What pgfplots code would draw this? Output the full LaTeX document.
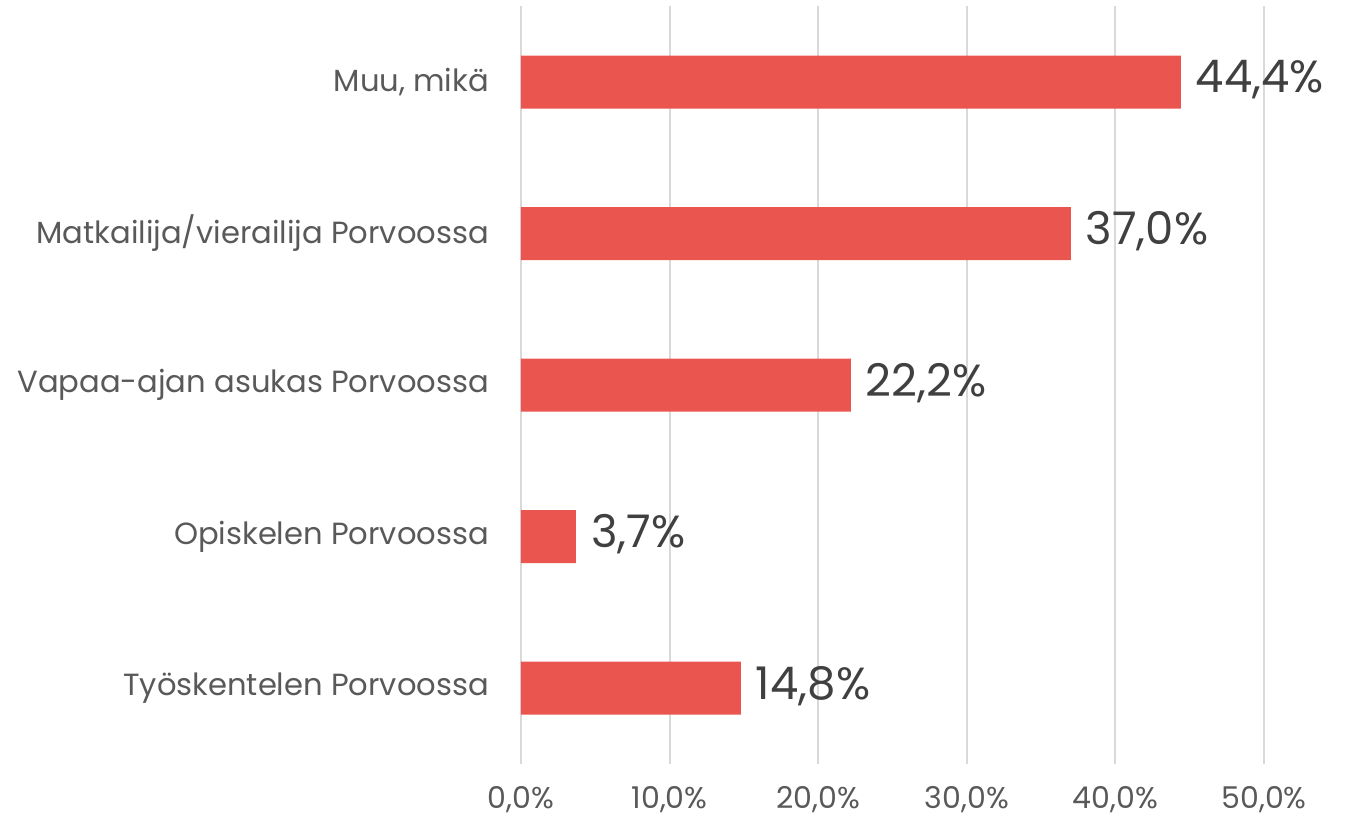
\documentclass[border=0pt]{standalone}
\usepackage{pgfplots}
\pgfplotsset{compat=1.18}
\usepackage{fontspec}
\setmainfont{Poppins}
\definecolor{barred}{HTML}{EA5550}
\definecolor{txtgray}{HTML}{595959}
\definecolor{valgray}{HTML}{404040}
\definecolor{gridgray}{HTML}{D9D9D9}
\begin{document}
\begin{tikzpicture}
\begin{axis}[
  at={(0,0)}, anchor=south west,
  scale only axis,
  width=371.5pt, height=378.75pt,
  xbar, bar width=26.5pt,
  xmin=0, xmax=50,
  ymin=-0.5, ymax=4.5,
  xtick={0,10,20,30,40,50},
  xticklabels={0{,}0\%,10{,}0\%,20{,}0\%,30{,}0\%,40{,}0\%,50{,}0\%},
  ytick={0,1,2,3,4},
  yticklabels={Työskentelen Porvoossa,Opiskelen Porvoossa,Vapaa-ajan asukas Porvoossa,Matkailija/vierailija Porvoossa,{Muu, mikä}},
  axis line style={draw=none},
  major tick length=0pt,
  xmajorgrids, grid style={gridgray, line width=1pt},
  y tick label style={font=\fontsize{15.3}{18}\selectfont, text=txtgray, xshift=-12.5pt},
  x tick label style={font=\fontsize{15}{18}\selectfont, text=txtgray, yshift=-8pt},
  /pgf/number format/assume math mode=true,
  nodes near coords={\pgfmathprintnumber[fixed,fixed zerofill,precision=1,use comma]{\pgfplotspointmeta}\%},
  nodes near coords style={font=\fontsize{22.5}{26}\selectfont, text=valgray, anchor=west, xshift=4pt, yshift=1pt},
  point meta=x,
]
\addplot[fill=barred, draw=none] coordinates {(14.8,0) (3.7,1) (22.2,2) (37.0,3) (44.4,4)};
\end{axis}
\path (-260.5pt,-25.1pt) rectangle (415.5pt,381.9pt);
\end{tikzpicture}
\end{document}
